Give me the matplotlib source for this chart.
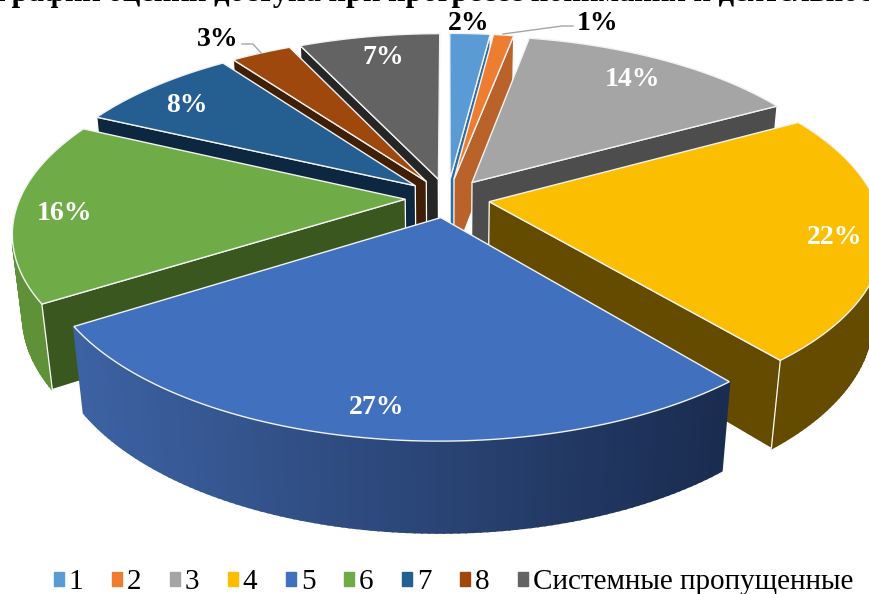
import numpy as np
import matplotlib
matplotlib.use('Agg')
import matplotlib.pyplot as plt
from matplotlib.patches import Patch
from matplotlib.colors import to_rgb

# values of the pie, percent
categories = ['1', '2', '3', '4', '5', '6', '7', '8', 'Системные пропущенные']
values = [2, 1, 14, 22, 27, 16, 8, 3, 7]
labels = ['2%', '1%', '14%', '22%', '27%', '16%', '8%', '3%', '7%']
title_text = 'График оценки доступа при прогрессе понимания и деятельности'

top_colors = ['#5b9bd5', '#ed7d31', '#a5a5a5', '#fbbe00', '#4170bf', '#6fab46', '#255e91', '#9e480e', '#636363']
side_colors = ['#2e6ca4', '#b9622a', '#4d4d4d', '#654b00', '#1a2c50', '#3a5720', '#0e2740', '#401f06', '#262626']
outer_colors = ['#4a80b0', '#b9622a', '#7a7a7a', '#654b00', '#1a2c50', '#5f9138', '#1c4a73', '#76350a', '#4a4a4a']

# where the labels sit, picture pixels
label_xy = [(469, 23), (598, 23), (633, 80), (835, 237), (377, 408), (65, 214), (187, 105), (218, 39), (383, 58)]
label_color = ['black', 'black', 'white', 'white', 'white', 'white', 'white', 'black', 'white']

# camera of the 3d pie
cx, cy = 447.5, 198
a, b = 385, 177
k = 0.174
explode = 0.11
drop = 82
shrink = 0.024


def project(x, y, low=False):
	w = 1 + k * y + (shrink if low else 0)
	sx = cx + a * x / w
	sy = cy + (-b * y + (drop if low else 0)) / w
	return sx, sy


def area(pts):
	pts = np.array(pts)
	x, y = pts[:, 0], pts[:, 1]
	return 0.5 * np.sum(x * np.roll(y, -1) - y * np.roll(x, -1))


fig = plt.figure(figsize=(8.7, 5.94), dpi=100)
ax = fig.add_axes([0, 0, 1, 1])
ax.set_xlim(0, 870)
ax.set_ylim(594, 0)
ax.axis('off')

edges = np.cumsum([0] + values) * 3.6
order = [0, 8, 1, 7, 2, 6, 5, 3, 4]  # back to front

for i in order:
	t0, t1 = np.radians(edges[i]), np.radians(edges[i + 1])
	mid = (t0 + t1) / 2
	ox, oy = explode * np.sin(mid), explode * np.cos(mid)
	tt = np.linspace(t0, t1, max(4, int(values[i] * 4)))
	arc = [(ox + np.sin(t), oy + np.cos(t)) for t in tt]
	tip = (ox, oy)

	# outer wall, small facets
	for n in range(len(arc) - 1):
		p, q = arc[n], arc[n + 1]
		quad = [project(*p), project(*q), project(*q, low=True), project(*p, low=True)]
		if area(quad) < 0:
			if i == 4:
				# front slice goes light to dark from left to right
				f = (project(*p)[0] - 75) / (727 - 75)
				col = np.array(to_rgb('#3d62a3')) * (1 - f) + np.array(to_rgb('#1a2c50')) * f
				col = tuple(col)
			else:
				col = outer_colors[i]
			ax.fill(*zip(*quad), color=col, lw=1.5, zorder=order.index(i) * 10 + 1)

	# two flat sides
	for p, q in [(tip, arc[0]), (arc[-1], tip)]:
		quad = [project(*p), project(*q), project(*q, low=True), project(*p, low=True)]
		if area(quad) < 0:
			ax.fill(*zip(*quad), facecolor=side_colors[i], edgecolor='white', lw=0.9, zorder=order.index(i) * 10 + 2)

	top = [project(*tip)] + [project(*p) for p in arc]
	ax.fill(*zip(*top), facecolor=top_colors[i], edgecolor='#f2f2f2', lw=1.0, zorder=order.index(i) * 10 + 3)

# leader lines
ax.plot([503, 562, 573], [34, 26, 26], color='#a6a6a6', lw=1.0, zorder=200)
ax.plot([242, 253, 261], [44, 44, 53], color='#a6a6a6', lw=1.0, zorder=200)

for txt, (x, y), c in zip(labels, label_xy, label_color):
	ax.text(x, y, txt, color=c, family='Liberation Serif', weight='bold', fontsize=20,
		ha='center', va='center', zorder=300)

# heading is cut by the top of the picture
ax.text(-6, 1, title_text, family='Liberation Serif', weight='bold', fontsize=22, color='black',
	ha='left', va='baseline', zorder=300)

handles = [Patch(color=c, label=n) for c, n in zip(top_colors, categories)]
leg = ax.legend(handles=handles, ncol=9, loc='lower center', bbox_to_anchor=(0.5214, -0.002), frameon=False,
	prop={'family': 'Liberation Serif', 'size': 21}, handlelength=0.34, handleheight=0.34,
	handletextpad=0.17, columnspacing=0.98, borderpad=0, borderaxespad=0)

fig.savefig('out.png', dpi=100)
